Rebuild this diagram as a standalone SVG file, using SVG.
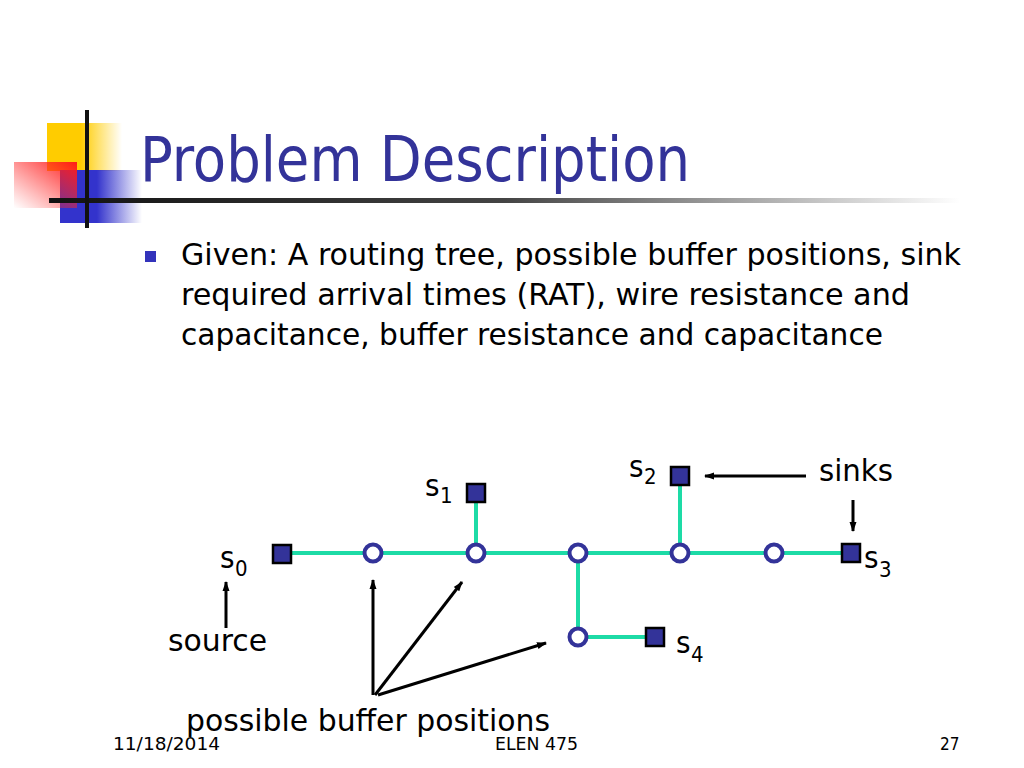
<svg xmlns="http://www.w3.org/2000/svg" width="1024" height="768" viewBox="0 0 1024 768">
<defs>
<linearGradient id="gy" x1="0" y1="0" x2="1" y2="0"><stop offset="0.45" stop-color="#ffcc00"/><stop offset="1" stop-color="#ffcc00" stop-opacity="0"/></linearGradient>
<linearGradient id="gb" x1="0" y1="0" x2="1" y2="0"><stop offset="0.45" stop-color="#3333cc"/><stop offset="1" stop-color="#3333cc" stop-opacity="0"/></linearGradient>
<linearGradient id="gr" x1="1" y1="0" x2="0" y2="1"><stop offset="0" stop-color="#ff1a1a"/><stop offset="1" stop-color="#ff3333" stop-opacity="0"/></linearGradient>
<linearGradient id="gl" x1="0" y1="0" x2="1" y2="0"><stop offset="0" stop-color="#111"/><stop offset="0.5" stop-color="#444"/><stop offset="1" stop-color="#fff"/></linearGradient>
<marker id="ah" viewBox="0 0 10 8" refX="9" refY="4" markerWidth="10" markerHeight="8" orient="auto" markerUnits="userSpaceOnUse"><path d="M0,0.5 L10,4 L0,7.5 z" fill="#000"/></marker>
<style>
.t{font-family:"DejaVu Sans Condensed","DejaVu Sans",sans-serif;}
.body{font-size:31px;fill:#000}
.lbl{font-size:31px;fill:#000}
.sub{font-size:22px;fill:#000}
.ft{font-size:17px;fill:#000}
.w{stroke:#1ddba6;stroke-width:4;fill:none}
.sq{fill:#333399;stroke:#000;stroke-width:2.5}
.cn{fill:#fff;stroke:#333399;stroke-width:4}
.ar{stroke:#000;stroke-width:3;fill:none}
</style>
</defs>
<rect width="1024" height="768" fill="#fff"/>
<g id="logo">
<rect x="47" y="123" width="75" height="48" fill="url(#gy)"/>
<rect x="60" y="170" width="82" height="53" fill="url(#gb)"/>
<rect x="14" y="162" width="63" height="46" fill="url(#gr)"/>
<rect x="49" y="198" width="911" height="5" fill="url(#gl)"/>
<rect x="85" y="110" width="4" height="118" fill="#111"/>
</g>
<text class="t" x="140" y="181" font-size="62" fill="#333399" textLength="550" lengthAdjust="spacingAndGlyphs">Problem Description</text>
<g id="bullet">
<rect x="145" y="251" width="11" height="11" fill="#3333bb"/>
<text class="t body" x="181" y="265" textLength="780" lengthAdjust="spacingAndGlyphs">Given: A routing tree, possible buffer positions, sink</text>
<text class="t body" x="181" y="305" textLength="729" lengthAdjust="spacingAndGlyphs">required arrival times (RAT), wire resistance and</text>
<text class="t body" x="181" y="345" textLength="702" lengthAdjust="spacingAndGlyphs">capacitance, buffer resistance and capacitance</text>
</g>
<g id="connectors">
<path class="w" d="M282,553 H851"/>
<path class="w" d="M476,493 V553"/>
<path class="w" d="M680,476 V553"/>
<path class="w" d="M578,553 V637 H655"/>
<path class="ar" marker-end="url(#ah)" d="M806,476 H705"/>
<path class="ar" marker-end="url(#ah)" d="M853,500 V531"/>
<path class="ar" marker-end="url(#ah)" d="M226,628 V582"/>
<path class="ar" marker-end="url(#ah)" d="M373,695 V580"/>
<path class="ar" marker-end="url(#ah)" d="M375,695 L462,582"/>
<path class="ar" marker-end="url(#ah)" d="M378,695 L546,643"/>
</g>
<g id="s0"><rect class="sq" x="273" y="545" width="18" height="18"/><text class="t lbl" x="220" y="568">s</text><text class="t sub" x="235" y="576">0</text></g>
<g id="b1"><circle class="cn" cx="373" cy="553" r="8.5"/></g>
<g id="b2"><circle class="cn" cx="476" cy="553" r="8.5"/></g>
<g id="b3"><circle class="cn" cx="578" cy="553" r="8.5"/></g>
<g id="b4"><circle class="cn" cx="680" cy="553" r="8.5"/></g>
<g id="b5"><circle class="cn" cx="774" cy="553" r="8.5"/></g>
<g id="b6"><circle class="cn" cx="578" cy="637" r="8.5"/></g>
<g id="s1"><rect class="sq" x="467" y="484" width="18" height="18"/><text class="t lbl" x="425" y="496">s</text><text class="t sub" x="440" y="503">1</text></g>
<g id="s2"><rect class="sq" x="671" y="467" width="18" height="18"/><text class="t lbl" x="629" y="477">s</text><text class="t sub" x="644" y="484">2</text></g>
<g id="s3"><rect class="sq" x="842" y="544" width="18" height="18"/><text class="t lbl" x="864" y="568">s</text><text class="t sub" x="879" y="577">3</text></g>
<g id="s4"><rect class="sq" x="646" y="628" width="18" height="18"/><text class="t lbl" x="676" y="653">s</text><text class="t sub" x="691" y="662">4</text></g>
<text class="t lbl" x="819" y="481" textLength="74" lengthAdjust="spacingAndGlyphs">sinks</text>
<text class="t lbl" x="168" y="651" textLength="99" lengthAdjust="spacingAndGlyphs">source</text>
<text class="t lbl" x="186" y="731" textLength="364" lengthAdjust="spacingAndGlyphs">possible buffer positions</text>
<text class="t ft" x="113" y="750" textLength="107" lengthAdjust="spacingAndGlyphs">11/18/2014</text>
<text class="t ft" x="495" y="750" textLength="83" lengthAdjust="spacingAndGlyphs">ELEN 475</text>
<text class="t ft" x="940" y="750">27</text>
</svg>
